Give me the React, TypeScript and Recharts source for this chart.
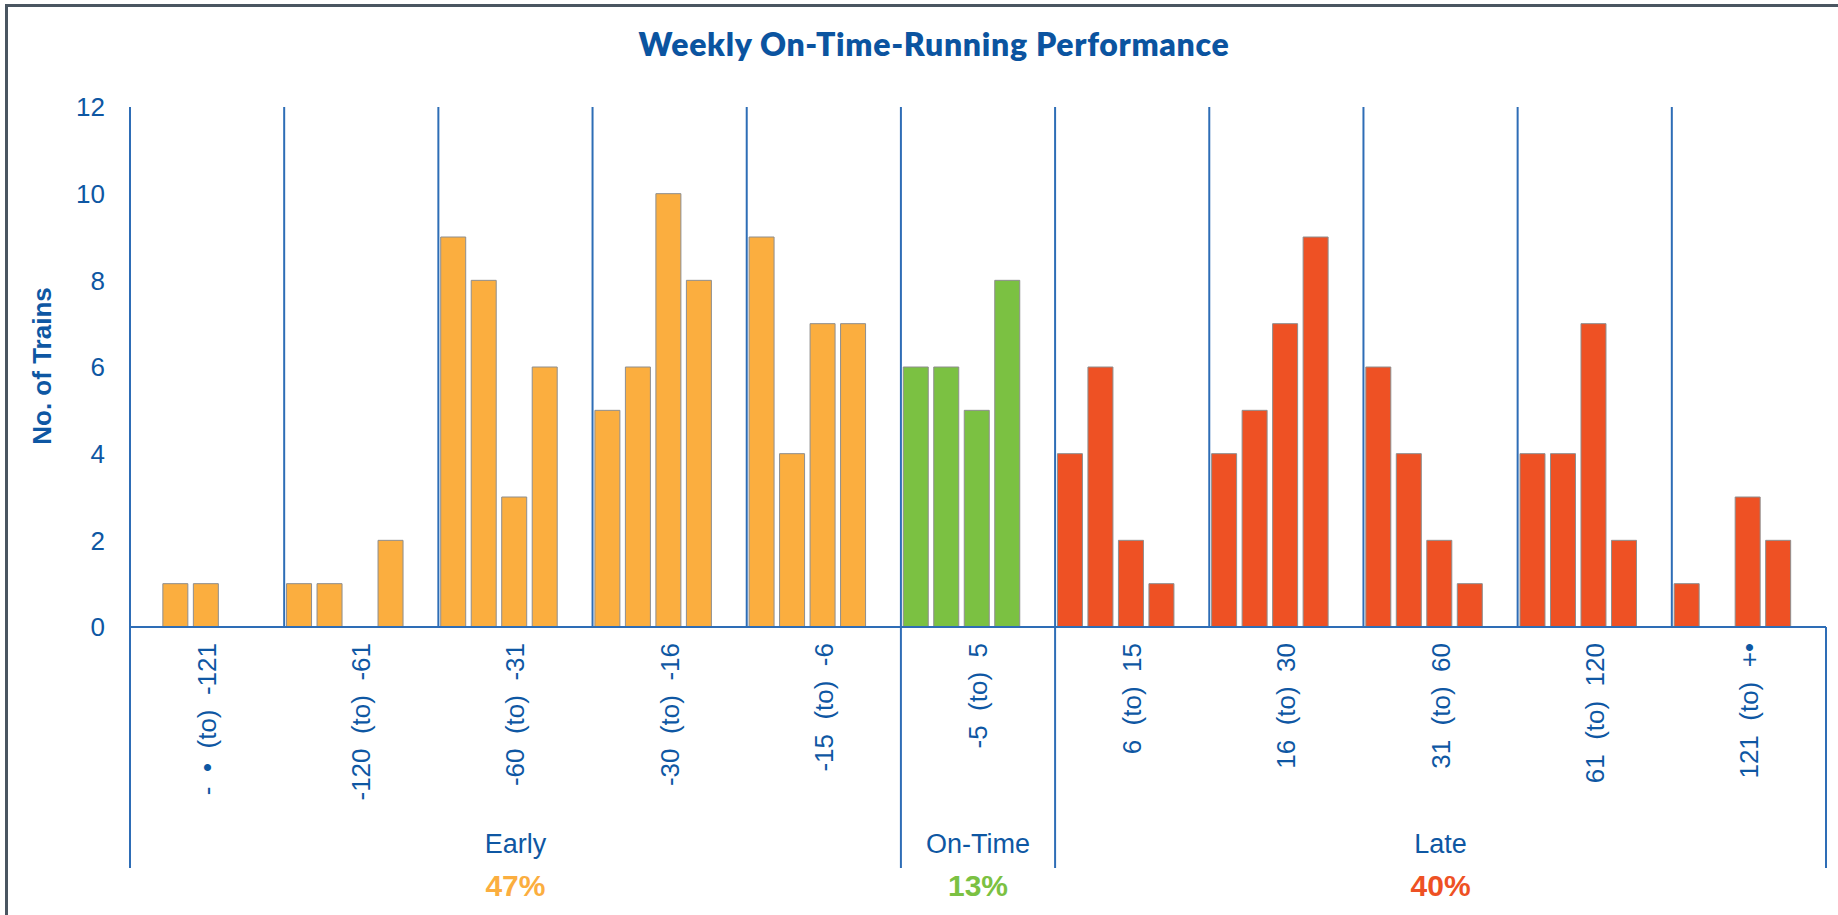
import React from 'react';
import { BarChart, Bar, XAxis, YAxis, ReferenceLine, Cell } from 'recharts';

// delay bands (minutes), read left to right
const categories = [
  '-  •  (to)  -121',
  '-120  (to)  -61',
  '-60  (to)  -31',
  '-30  (to)  -16',
  '-15  (to)  -6',
  '-5  (to)  5',
  '6  (to)  15',
  '16  (to)  30',
  '31  (to)  60',
  '61  (to)  120',
  '121  (to)  +•',
];

// one value per band for each week; null = no bar
const week1 = [null, 1, 9, 5, 9, 6, 4, 4, 6, 4, 1];
const week2 = [1, 1, 8, 6, 4, 6, 6, 5, 4, 4, null];
const week3 = [1, null, 3, 10, 7, 5, 2, 7, 2, 7, 3];
const week4 = [null, 2, 6, 8, 7, 8, 1, 9, 1, 2, 2];
const week5 = [null, null, null, null, null, null, null, null, null, null, null];

const groupNames = ['Early', 'On-Time', 'Late'];
const groupShares = ['47%', '13%', '40%'];
const groupSizes = [5, 1, 5];
const groupColors = ['#FBAE3F', '#7BC142', '#EE5124'];

const yTicks = [0, 2, 4, 6, 8, 10, 12];

const TEXT_BLUE = '#0E57A3';
const LINE_BLUE = '#2E6DB6';
const FONT = '"Liberation Sans", Arial, sans-serif';

const data = categories.map((name, i) => ({
  name,
  w1: week1[i],
  w2: week2[i],
  w3: week3[i],
  w4: week4[i],
  w5: week5[i],
}));

// which group each category falls in
const groupOf: number[] = [];
groupSizes.forEach((n, g) => {
  for (let k = 0; k < n; k++) groupOf.push(g);
});
const groupStart = groupSizes.map((_, g) => groupSizes.slice(0, g).reduce((a, b) => a + b, 0));

const CategoryTick = (props: any) => {
  const { x, y, payload, width } = props;
  const i = payload.index;
  const half = payload.offset || width / categories.length / 2;
  const g = groupOf[i];
  const isStart = groupStart[g] === i;
  const isMiddle = groupStart[g] + Math.floor(groupSizes[g] / 2) === i;
  const isLast = i === categories.length - 1;
  return (
    <g>
      <text
        x={x}
        y={y + 16}
        transform={`rotate(-90, ${x}, ${y + 16})`}
        textAnchor="end"
        dominantBaseline="central"
        fill={TEXT_BLUE}
        fontSize={26}
        fontFamily={FONT}
        style={{ whiteSpace: 'pre' }}
      >
        {payload.value}
      </text>
      {isStart && <line x1={x - half} x2={x - half} y1={y} y2={y + 241} stroke={LINE_BLUE} strokeWidth={2} />}
      {isLast && <line x1={x + half} x2={x + half} y1={y} y2={y + 241} stroke={LINE_BLUE} strokeWidth={2} />}
      {isMiddle && (
        <>
          <text x={x} y={y + 226} textAnchor="middle" fill={TEXT_BLUE} fontSize={27} fontFamily={FONT}>
            {groupNames[g]}
          </text>
          <text x={x} y={y + 269} textAnchor="middle" fill={groupColors[g]} fontSize={30} fontWeight="bold" fontFamily={FONT}>
            {groupShares[g]}
          </text>
        </>
      )}
    </g>
  );
};

const series = ['w1', 'w2', 'w3', 'w4', 'w5'];

export default function App() {
  return (
    <div style={{ position: 'absolute', left: 0, top: 0, width: 1838, height: 915, background: '#fff', overflow: 'hidden' }}>
      <div
        style={{
          position: 'absolute',
          left: 5,
          top: 4,
          width: 1860,
          height: 940,
          border: '3px solid #4A5661',
          boxSizing: 'border-box',
        }}
      />
      <div
        style={{
          position: 'absolute',
          left: 0,
          top: 24,
          width: 1868,
          textAlign: 'center',
          fontFamily: 'Lato, sans-serif',
          fontWeight: 800,
          fontSize: 32,
          letterSpacing: 0.7,
          color: '#0B54A0',
        }}
      >
        Weekly On-Time-Running Performance
      </div>
      <div
        style={{
          position: 'absolute',
          left: 42,
          top: 366,
          transform: 'translate(-50%, -50%) rotate(-90deg)',
          whiteSpace: 'nowrap',
          fontFamily: FONT,
          fontWeight: 'bold',
          fontSize: 26,
          color: TEXT_BLUE,
        }}
      >
        No. of Trains
      </div>
      <div style={{ position: 'absolute', left: 0, top: 0 }}>
        <BarChart
          width={1838}
          height={915}
          data={data}
          margin={{ top: 107, right: 12, bottom: 0, left: 40 }}
          barCategoryGap={2.35}
          barGap={5.5}
        >
          <XAxis
            dataKey="name"
            height={288}
            interval={0}
            tickLine={false}
            tickSize={0}
            tickMargin={0}
            axisLine={{ stroke: LINE_BLUE, strokeWidth: 2 }}
            tick={<CategoryTick />}
          />
          <YAxis
            domain={[0, 12]}
            ticks={yTicks}
            width={90}
            axisLine={false}
            tickLine={false}
            tickSize={0}
            tickMargin={25}
            tick={{ fill: TEXT_BLUE, fontSize: 26, fontFamily: FONT }}
          />
          {categories.map((c) => (
            <ReferenceLine key={c} x={c} position="start" stroke={LINE_BLUE} strokeWidth={2} />
          ))}
          <ReferenceLine x={categories[categories.length - 1]} position="end" stroke={LINE_BLUE} strokeWidth={2} />
          {series.map((s) => (
            <Bar key={s} dataKey={s} stroke="#8E8E8E" strokeWidth={1} isAnimationActive={false}>
              {data.map((d, i) => (
                <Cell key={i} fill={groupColors[groupOf[i]]} />
              ))}
            </Bar>
          ))}
        </BarChart>
      </div>
    </div>
  );
}
